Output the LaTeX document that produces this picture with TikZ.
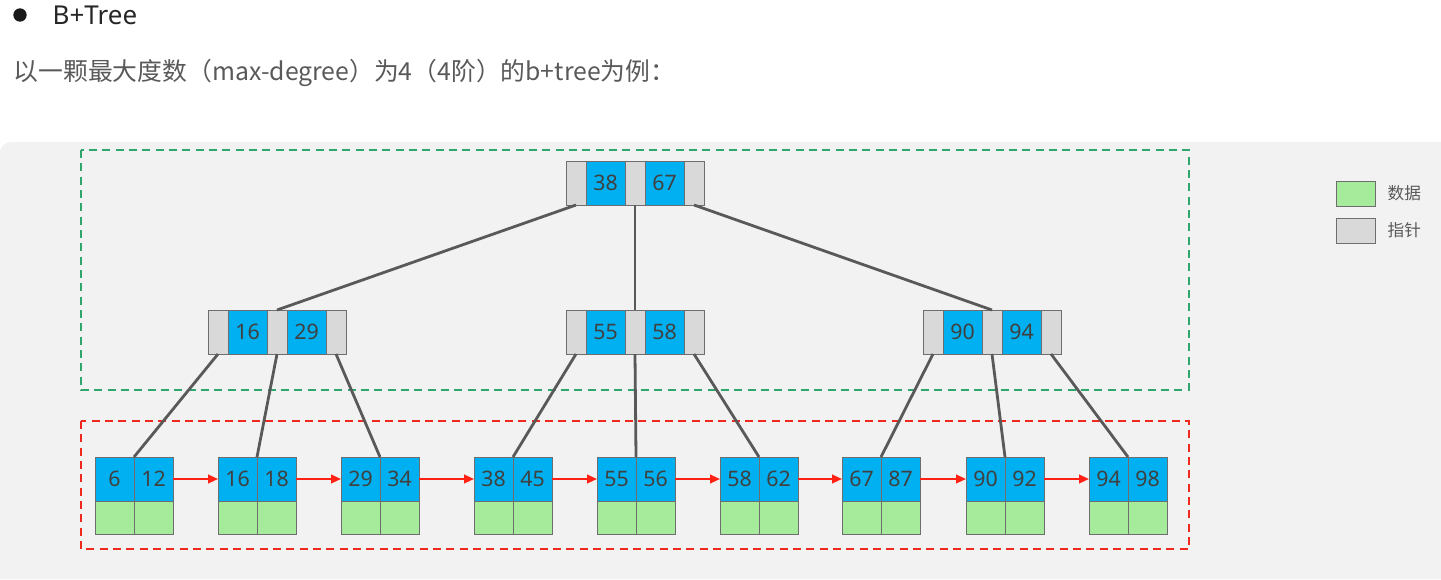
\documentclass[tikz,border=0pt]{standalone}
\usepackage{fontspec}
\setmainfont{Noto Sans}
\newfontfamily\cjk{Noto Sans CJK SC}
\usetikzlibrary{positioning, arrows.meta}

\definecolor{keyblue}{RGB}{0,176,240}
\definecolor{ptrgray}{RGB}{217,217,217}
\definecolor{datagreen}{RGB}{166,234,156}
\definecolor{cellline}{RGB}{110,110,110}
\definecolor{numtext}{RGB}{64,64,64}
\definecolor{linkgray}{RGB}{89,89,89}
\definecolor{nextred}{RGB}{255,34,20}
\definecolor{boxgreen}{RGB}{48,166,110}
\definecolor{boxred}{RGB}{240,40,30}
\definecolor{panel}{RGB}{242,242,242}

\begin{document}
\begin{tikzpicture}[x=0.75pt, y=-0.75pt]
        % one pixel of the screenshot is one unit
        \tikzstyle{cell}=[draw=cellline, line width=0.75pt, inner sep=0pt, outer sep=0pt, minimum height=33pt, text=numtext, font=\fontsize{16}{19}\selectfont]
        \tikzstyle{ptrcell}=[cell, fill=ptrgray, minimum width=15pt]
        \tikzstyle{keycell}=[cell, fill=keyblue, minimum width=29.25pt]
        \tikzstyle{datacell}=[cell, fill=datagreen, minimum width=29.25pt, minimum height=24.75pt]
        \tikzstyle{treeline}=[draw=linkgray, line width=2.1pt]
        \tikzstyle{leafarrow}=[draw=nextred, line width=1.5pt, -{Triangle[length=7.5pt, width=6.5pt]}]
        \tikzstyle{area}=[line width=1.5pt, dash pattern=on 6pt off 4pt]

        \useasboundingbox (0,0) rectangle (1441,579);
        \fill[panel] (0,579) [rounded corners=8pt] -- (0,142) [sharp corners] -- (1441,142) -- (1441,579) -- cycle;

        \node[circle, fill=black!90, inner sep=0pt, minimum size=10pt] (bullet) at (20,15) {};
        \node[anchor=west, text=black!85, font=\fontsize{19.5}{22}\selectfont] (title) at (48,15) {B+Tree};
        \node[anchor=west, text=black!65, font=\cjk\fontsize{18.6}{21}\selectfont] (intro) at (9,73) {以一颗最大度数（max-degree）为4（4阶）的b+tree为例：};

        \draw[area, boxgreen] (81,150) rectangle (1189,390);
        \draw[area, boxred] (81,421) rectangle (1189,549);

        % index nodes
        \foreach \n/\x/\y/\a/\b in {r/566/161/38/67, i/208/310/16/29, j/566/310/55/58, k/923/310/90/94} {
          \node[ptrcell, anchor=north west] (\n-p1) at (\x,\y) {};
          \node[keycell, right=0pt of \n-p1] (\n-k1) {\a};
          \node[ptrcell, right=0pt of \n-k1] (\n-p2) {};
          \node[keycell, right=0pt of \n-p2] (\n-k2) {\b};
          \node[ptrcell, right=0pt of \n-k2] (\n-p3) {};
        }

        % leaves
        \foreach \n/\x/\a/\b in {a/95/6/12, b/218/16/18, c/341/29/34, d/474/38/45, e/597/55/56, f/720/58/62, g/842/67/87, h/966/90/92, l/1089/94/98} {
          \node[keycell, anchor=north west] (\n1) at (\x,457) {\a};
          \node[keycell, right=0pt of \n1] (\n2) {\b};
          \node[datacell, below=0pt of \n1] (\n1d) {};
          \node[datacell, below=0pt of \n2] (\n2d) {};
        }

        \draw[treeline] (r-p1.south) -- (i-p2.north);
        \draw[treeline] (r-p2.south) -- (j-p2.north);
        \draw[treeline] (r-p3.south) -- (k-p2.north);

        \draw[treeline] (i-p1.south) -- (a1.north east);
        \draw[treeline] (i-p2.south) -- (b1.north east);
        \draw[treeline] (i-p3.south) -- (c1.north east);
        \draw[treeline] (j-p1.south) -- (d1.north east);
        \draw[treeline] (j-p2.south) -- (e1.north east);
        \draw[treeline] (j-p3.south) -- (f1.north east);
        \draw[treeline] (k-p1.south) -- (g1.north east);
        \draw[treeline] (k-p2.south) -- (h1.north east);
        \draw[treeline] (k-p3.south) -- (l1.north east);

        \foreach \p/\q in {a/b, b/c, c/d, d/e, e/f, f/g, g/h, h/l}
          \draw[leafarrow] (\p2.east) -- (\q1.west);

        % legend
        \node[datacell, minimum height=18.75pt, anchor=north west] (legdata) at (1336,181) {};
        \node[ptrcell, minimum width=29.25pt, minimum height=18.75pt, anchor=north west] (legptr) at (1336,218) {};
        \node[right=6pt of legdata, text=black!65, font=\cjk\fontsize{12.5}{15}\selectfont] {数据};
        \node[right=6pt of legptr, text=black!65, font=\cjk\fontsize{12.5}{15}\selectfont] {指针};
      \end{tikzpicture}
\end{document}
